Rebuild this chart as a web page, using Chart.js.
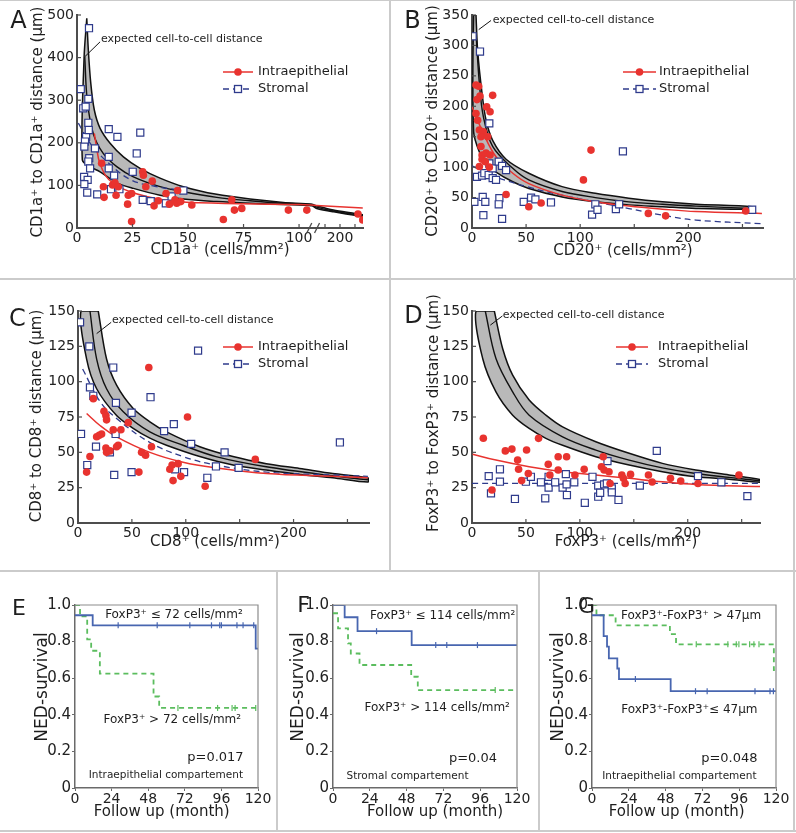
<!DOCTYPE html>
<html>
<head>
<meta charset="utf-8">
<script src="https://cdn.jsdelivr.net/npm/chart.js@4.4.1/dist/chart.umd.min.js"></script>
<style>
  body { margin: 0; background: #fff; }
  #fig { position: relative; width: 796px; height: 833px; }
  #fig canvas { position: absolute; }
  .sep { position: absolute; background: #cbcbcb; }
</style>
</head>
<body>
<div id="fig">
  <canvas id="cA" width="390" height="278" style="left:0;top:0"></canvas>
  <canvas id="cB" width="406" height="278" style="left:390px;top:0"></canvas>
  <canvas id="cC" width="390" height="291" style="left:0;top:280px"></canvas>
  <canvas id="cD" width="406" height="291" style="left:390px;top:280px"></canvas>
  <canvas id="cE" width="277" height="262" style="left:0;top:571px"></canvas>
  <canvas id="cF" width="262" height="262" style="left:277px;top:571px"></canvas>
  <canvas id="cG" width="257" height="262" style="left:539px;top:571px"></canvas>
  <div class="sep" style="left:0;top:0;width:796px;height:1px"></div>
  <div class="sep" style="left:793px;top:0;width:2px;height:831px"></div>
  <div class="sep" style="left:0;top:830px;width:796px;height:2px"></div>
  <div class="sep" style="left:0;top:278px;width:796px;height:2px"></div>
  <div class="sep" style="left:389px;top:0;width:2px;height:571px"></div>
  <div class="sep" style="left:0;top:570px;width:796px;height:2px"></div>
  <div class="sep" style="left:276px;top:571px;width:2px;height:260px"></div>
  <div class="sep" style="left:538px;top:571px;width:2px;height:260px"></div>
</div>
<script>
const FONT = '"DejaVu Sans", Verdana, sans-serif';
const RED = "#e8332f";
const NAVY = "#2f3b8c";
const BAND = "#b9b9b9";
const KMBLUE = "#4866b0";
const KMGREEN = "#5bbd5e";

// ---------- A : CD1a+ (axe x coupé après 100) ----------
const aTickReal = [0, 25, 50, 75, 100, 150, 200, 250];
const aTickText = ["0", "25", "50", "75", "100", "", "200", ""];
const aRedX = [11.1, 11.9, 12.2, 16, 17.1, 17.6, 18.6, 23.1, 22.8, 24.6, 24.6, 29.6, 29.9, 31, 33.9, 34.7, 36.6, 40.1, 41.6, 44.1, 44.9, 45.3, 46.7, 51.7, 65.9, 69.7, 70.9, 74.2, 95.2, 103.5, 260, 276];
const aRedY = [152, 97, 72, 101, 106, 77, 97, 77, 56, 81, 15, 132, 124, 97, 110, 52, 64, 81, 56, 66, 58, 88, 62, 54, 20, 66, 42, 46, 42, 42, 33, 19];
const aBlueX = [5.4, 1.7, 2.8, 3.9, 5.1, 5.1, 4.1, 3.6, 3.3, 5.3, 5.5, 5.1, 5.9, 3.2, 4.8, 3.3, 4.6, 9.1, 8.1, 14.3, 18.2, 28.5, 26.9, 14.3, 14.3, 16.7, 25.1, 15.3, 19.1, 29.6, 33.2, 40, 42.6, 47.9];
const aBlueY = [469, 326, 281, 285, 303, 247, 214, 203, 191, 230, 164, 156, 140, 120, 113, 103, 83, 79, 187, 232, 214, 224, 175, 167, 140, 123, 132, 91, 91, 66, 63, 58, 74, 88];
const aUpX = [4.4, 5.1, 6.2, 7.8, 10.4, 14.9, 20.9, 28.4, 37.4, 47.9, 62.9, 77.9, 92.9, 105.7, 122, 178, 276];
const aUpY = [492, 418, 340, 277, 234, 199, 167, 140, 117, 97, 79, 68, 60, 56, 52, 42, 31];
const aLoX = [3.2, 2.4, 5.9, 10.4, 17.9, 25.4, 37.4, 47.9, 62.9, 77.9, 92.9, 105.7, 122, 178, 276];
const aLoY = [402, 160, 144, 132, 106, 93, 77, 68, 62, 58, 55, 52, 46, 38, 27];
const aMidX = [3.5, 4.6, 7.3, 11.8, 17.9, 25.4, 37.4, 47.9, 62.9, 77.9, 92.9, 105.7, 122, 178, 276];
const aMidY = [402, 300, 222, 175, 144, 120, 97, 85, 72, 64, 58, 55, 49, 40, 29];
const aRedFitX = [7.8, 8.8, 10.3, 14.3, 24, 40, 55, 100, 122, 276];
const aRedFitY = [222, 190, 152, 114, 85, 65, 59, 55, 53, 47];
const aBlueFitX = [0.6, 5.9, 14.3, 24.3, 35, 49];
const aBlueFitY = [246, 199, 152, 113, 98, 87];
const aLeadX = [10.4, 3.5];
const aLeadY = [437, 402];

// ---------- B : CD20+ ----------
const bRedX = [3.7, 6.2, 4.6, 7.4, 19.1, 3.7, 5.2, 6.8, 10.5, 8.3, 13.6, 16.7, 14.5, 8.3, 9.3, 13, 16.7, 9.3, 12.3, 16, 6.8, 31.5, 52.5, 63.9, 103, 110, 163, 179, 253];
const bRedY = [235, 233, 211, 217, 218, 188, 177, 161, 158, 150, 199, 191, 150, 134, 120, 123, 120, 113, 109, 100, 101, 55, 35, 41, 79, 128, 24, 20, 28];
const bBlueX = [0.6, 7.4, 16, 16, 4.6, 9.3, 11.4, 15.4, 19.1, 19.1, 22.2, 24.7, 27.8, 31.5, 2.2, 9.9, 12.3, 10.5, 25.3, 24.7, 27.8, 47.8, 54.6, 58.6, 73, 111, 114, 116, 133, 136, 139.5, 259];
const bBlueY = [315, 290, 172, 106, 84, 86, 90, 87, 98, 82, 79, 109, 102, 95, 43, 51, 43, 21, 49, 39, 15, 43, 50, 47, 42, 22, 39, 30, 31, 39, 126, 30];
const bUpX = [3.7, 5.2, 9.3, 13, 19.1, 31.5, 52.5, 83.3, 114, 145, 176, 207, 259];
const bUpY = [350, 292, 221, 177, 144, 113, 90, 68, 57, 49, 43, 39, 35];
const bLoX = [1.5, 1.5, 6.8, 13, 22.2, 37.7, 52.5, 83.3, 114, 145, 176, 207, 259];
const bLoY = [350, 158, 125, 106, 92, 76, 65, 51, 43, 38, 35, 32, 31];
const bMidX = [3.7, 6.8, 10.5, 19.1, 37.7, 52.5, 83.3, 114, 145, 176, 207, 259];
const bMidY = [320, 238, 183, 134, 98, 79, 60, 50, 43, 39, 36, 32];
const bRedFitX = [0, 9.9, 22.2, 37.7, 52.5, 83.3, 114, 145, 176, 207, 268];
const bRedFitY = [199, 158, 117, 90, 73, 54, 43, 36, 31, 27, 24];
const bBlueFitX = [0, 22, 52.5, 83, 114, 145, 176, 207, 268];
const bBlueFitY = [102, 84, 67, 54, 43, 32, 21, 13, 7];
const bLeadX = [17.6, 6.2];
const bLeadY = [341, 326];

// ---------- C : CD8+ ----------
const cRedX = [8, 11.1, 14.2, 17.3, 19.7, 21.9, 24.1, 25.9, 26.5, 25.9, 26.5, 29.6, 32.7, 35.8, 37.3, 39.8, 46.6, 59, 56.5, 62.7, 65.7, 68.2, 85.2, 87.3, 88.2, 92.9, 95.4, 101.6, 118, 164.5];
const cRedY = [36, 47, 88, 61, 62, 63, 79, 76, 73, 53, 50, 51, 66, 54, 55, 66, 71, 50, 36, 48, 110, 54, 38, 41, 30, 42, 33, 75, 26, 45];
const cBlueX = [1.9, 10.5, 11.1, 14.2, 2.8, 8.6, 16.7, 32.7, 35.2, 34.9, 29.6, 33.6, 49.7, 49.7, 67.3, 79.9, 88.9, 90.1, 98.4, 105, 111.4, 120, 128, 136, 149, 243];
const cBlueY = [142, 125, 96, 90, 63, 41, 54, 110, 85, 63, 50, 34, 78, 36, 89, 65, 70, 38, 36, 56, 122, 32, 40, 50, 39, 57];
const cUpX = [18.8, 26.5, 35.8, 51.2, 66.7, 82.1, 113, 143.8, 174.7, 205.6, 236.4, 268.8];
const cUpY = [150, 116, 97.5, 81, 71.6, 64.5, 54, 47, 42, 38.6, 35, 32];
const cLoX = [2.8, 8, 17.3, 35.8, 51.2, 66.7, 82.1, 113, 143.8, 174.7, 205.6, 236.4, 268.8];
const cLoY = [150, 116, 95, 76, 67, 60, 55, 47, 41, 37.5, 34.4, 32, 29];
const cMidX = [11.1, 17.3, 26.5, 42, 66.7, 97.5, 128, 174.7, 236, 269];
const cMidY = [150, 116, 95, 78.7, 64.5, 55, 47, 39.8, 33.4, 30.6];
const cRedFitX = [8, 20.4, 35.8, 66.7, 97.5, 128, 175, 236, 269];
const cRedFitY = [77.5, 69, 61, 50, 43, 39, 35, 33, 32];
const cBlueFitX = [4.3, 20.4, 35.8, 66.7, 97.5, 128, 175, 236, 269];
const cBlueFitY = [109, 86, 74, 57, 47, 41, 36, 34, 33];
const cLeadX = [30.8, 17.3];
const cLeadY = [142, 134];

// ---------- D : FoxP3+ ----------
const dRedX = [10.5, 18.5, 30.9, 37, 42.3, 43.2, 46, 50.6, 52.2, 61.7, 70.7, 72.2, 79.9, 79.9, 87.7, 95.4, 104, 120, 121.6, 122.5, 127, 128, 138.9, 140.4, 142, 147, 163.6, 167, 184, 193.5, 209.5, 247.5];
const dRedY = [60, 23.3, 51, 52.3, 44.5, 38, 30, 51.6, 35, 59.9, 41.5, 34, 46.9, 37.5, 46.9, 34, 38, 39.8, 46.9, 37.5, 36.3, 28, 34, 31.6, 28, 34.4, 34, 29, 31.6, 29.7, 28, 34];
const dBlueX = [15.5, 17.6, 25.9, 25.9, 39.8, 50, 54.6, 63.9, 67.9, 71, 71, 77.1, 84, 87, 87.7, 88, 94.8, 104.6, 111.7, 117, 117, 118.8, 122.5, 125, 125.6, 129.6, 129.6, 135.8, 155.6, 171.3, 209.5, 231.2, 255.3];
const dBlueY = [33.2, 21, 38, 29.2, 17, 29.2, 32.7, 28.8, 17.5, 32.7, 25, 28.8, 25, 34.6, 27.3, 19.8, 28.8, 14.3, 32.7, 26.4, 18.6, 21.4, 27.3, 28, 43.8, 24.5, 21.7, 16.3, 26.4, 51, 33.2, 28.8, 19];
const dUpX = [20.7, 28.4, 37.7, 53, 68.5, 84, 114.8, 145.7, 176.5, 207.4, 238.3, 269];
const dUpY = [150, 123.5, 104.6, 87, 76.3, 68, 57.5, 49.3, 42.2, 37.5, 34, 30.4];
const dLoX = [3.7, 9.9, 22.2, 37.7, 53, 68.5, 84, 114.8, 145.7, 176.5, 207.4, 238.3, 269];
const dLoY = [150, 116.4, 92.8, 76.3, 66.9, 59.9, 55, 46.9, 41, 36.3, 32.7, 31, 28.8];
const dMidX = [12.3, 22.2, 37.7, 53, 84, 114.8, 145.7, 176.5, 207.4, 238.3, 269];
const dMidY = [150, 116.4, 92.8, 76.3, 61, 51.6, 44.5, 39, 35, 32.3, 29.7];
const dRedFitX = [0.6, 22.2, 53, 84, 114.8, 145.7, 176.5, 207.4, 269];
const dRedFitY = [48.7, 44.5, 39.8, 36.3, 34, 31.6, 29.2, 27.3, 25.7];
const dBlueFitX = [0, 269];
const dBlueFitY = [28, 28];
const dLeadX = [28.2, 17];
const dLeadY = [146.5, 140];

// ---------- E, F, G : survie (Kaplan-Meier) ----------
const eBlueT = [0, 11.6, 118.5, 120];
const eBlueS = [0.944, 0.889, 0.762, 0.762];
const eBlueCens = [28.3, 53.9, 75.3, 89.5, 94.9, 96, 106.2, 110.2, 117.2];
const eGreenT = [0, 3.3, 8, 10.6, 16.3, 51.5, 55.2, 120];
const eGreenS = [1, 0.9375, 0.8125, 0.75, 0.625, 0.5, 0.4375, 0.4375];
const eGreenCens = [67.5, 93.5, 103, 105, 118.5];

const fBlueT = [0, 7.6, 16, 51.3, 120];
const fBlueS = [1, 0.933, 0.857, 0.781, 0.781];
const fBlueCens = [28.4, 67, 74.2, 94.2];
const fGreenT = [0, 3.3, 9.8, 11.6, 17.3, 51, 55.3, 120];
const fGreenS = [0.955, 0.872, 0.79, 0.735, 0.672, 0.608, 0.535, 0.535];
const fGreenCens = [105.8];

const gBlueT = [0, 7.6, 9.8, 11, 16.5, 17.6, 51.3, 120];
const gBlueS = [0.944, 0.83, 0.772, 0.708, 0.653, 0.595, 0.529, 0.529];
const gBlueCens = [28.3, 67.5, 75.1, 106.3, 116.1, 118.3];
const gGreenT = [0, 2.9, 15.4, 50.8, 54.8, 118.6, 120];
const gGreenS = [1, 0.944, 0.889, 0.841, 0.785, 0.644, 0.644];
const gGreenCens = [68, 88.6, 94.1, 95.8, 102.8, 105.6, 108.9];

// ---------- helpers ----------
const same = v => v;
const brkA = r => (r <= 110 ? r : 91.44 + 0.135 * r); // axe coupé de A
const pts = (xs, ys, f = same) => xs.map((x, i) => ({ x: f(x), y: ys[i] }));
const poly = (ux, uy, lx, ly, f) => {
  const up = pts(ux, uy, f);
  return up.concat(pts(lx, ly, f).reverse(), [up[0]]);
};
const stepAt = (ts, ss, t) => {
  let s = ss[0];
  ts.forEach((v, i) => { if (v <= t) s = ss[i]; });
  return s;
};

function deco(o) {
  return {
    id: "deco",
    afterDraw(chart) {
      const c = chart.ctx, a = chart.chartArea, xs = chart.scales.x, ys = chart.scales.y;
      const seg = (x1, y1, x2, y2) => { c.beginPath(); c.moveTo(x1, y1); c.lineTo(x2, y2); c.stroke(); };
      c.save();
      if (o.frame) {
        c.strokeStyle = "#8c8c8c"; c.lineWidth = 1.2;
        c.beginPath(); c.moveTo(a.left, a.top); c.lineTo(a.right, a.top); c.lineTo(a.right, a.bottom); c.stroke();
      }
      if (o.inTicks) {
        c.strokeStyle = "#4d4d4d"; c.lineWidth = 1.2;
        xs.ticks.forEach(t => { const p = xs.getPixelForValue(t.value); seg(p, a.bottom, p, a.bottom - 4); });
        ys.ticks.forEach(t => { const p = ys.getPixelForValue(t.value); seg(a.left, p, a.left + 4, p); });
      }
      if (o.brk) {
        c.strokeStyle = "#4d4d4d"; c.lineWidth = 1.3;
        o.brk.forEach(v => { const p = xs.getPixelForValue(v); seg(p - 2.5, a.bottom + 5, p + 2.5, a.bottom - 5); });
      }
      c.fillStyle = "#1e1e1e"; c.textBaseline = "middle";
      (o.notes || []).forEach(n => {
        c.font = n.size + "px " + FONT; c.textAlign = n.align || "center";
        c.fillText(n.text, xs.getPixelForValue(n.x), ys.getPixelForValue(n.y));
      });
      (o.titles || []).forEach(t => {
        c.save(); c.translate(t.x, t.y); if (t.rot) c.rotate(-Math.PI / 2);
        c.font = t.size + "px " + FONT; c.textAlign = "center";
        c.fillText(t.text, 0, 0); c.restore();
      });
      if (o.legend) {
        const L = o.legend, m = (L.x1 + L.x2) / 2;
        c.lineWidth = 1.5; c.strokeStyle = RED; seg(L.x1, L.y1, L.x2, L.y1);
        c.fillStyle = RED; c.beginPath(); c.arc(m, L.y1, 3.8, 0, 2 * Math.PI); c.fill();
        c.strokeStyle = NAVY; c.lineWidth = 1.3; c.setLineDash([6, 4]); seg(L.x1, L.y2, L.x2, L.y2); c.setLineDash([]);
        c.fillStyle = "#fff"; c.fillRect(m - 3.5, L.y2 - 3.5, 7, 7); c.strokeRect(m - 3.5, L.y2 - 3.5, 7, 7);
        c.fillStyle = "#1e1e1e"; c.font = "13px " + FONT; c.textAlign = "left";
        c.fillText("Intraepithelial", L.tx, L.y1); c.fillText("Stromal", L.tx, L.y2);
      }
      c.restore();
    }
  };
}

const tickFont = size => ({ family: FONT, size: size });

function distChart(id, k) {
  const f = k.f || same;
  return new Chart(document.getElementById(id), {
    type: "line",
    data: {
      datasets: [
        { data: pts(k.redX, k.redY, f), showLine: false, pointStyle: "circle", pointRadius: 3.8, pointBackgroundColor: RED, pointBorderWidth: 0, order: 1 },
        { data: pts(k.blueX, k.blueY, f), showLine: false, pointStyle: "rect", pointRadius: 5, pointBackgroundColor: "#fff", pointBorderColor: NAVY, pointBorderWidth: 1.2, order: 2 },
        { data: pts(k.leadX, k.leadY, f), borderColor: "#111", borderWidth: 1, pointRadius: 0, order: 3 },
        { data: pts(k.rfX, k.rfY, f), borderColor: RED, borderWidth: 1.5, pointRadius: 0, tension: 0.4, order: 4 },
        { data: pts(k.bfX, k.bfY, f), borderColor: NAVY, borderWidth: 1.3, borderDash: [6, 4], pointRadius: 0, tension: 0.4, order: 5 },
        { data: pts(k.midX, k.midY, f), borderColor: "#111", borderWidth: 1.4, pointRadius: 0, tension: 0.35, order: 6 },
        { data: poly(k.upX, k.upY, k.loX, k.loY, f), fill: "shape", backgroundColor: BAND, borderColor: "#111", borderWidth: 1.5, pointRadius: 0, tension: 0.3, order: 7 }
      ]
    },
    options: {
      responsive: false, animation: false, events: [],
      layout: { padding: k.pad },
      scales: {
        x: {
          type: "linear", min: 0, max: k.xmax,
          border: { color: "#4d4d4d", width: 2 },
          grid: { drawOnChartArea: false, drawTicks: false },
          ticks: Object.assign({ font: tickFont(14), color: "#222", padding: 2, maxRotation: 0, autoSkip: false, includeBounds: false, stepSize: 50 }, k.xticks || {}),
          afterBuildTicks: k.xbuild,
          afterFit: s => { s.height = k.xh; }
        },
        y: {
          min: 0, max: k.ymax,
          border: { color: "#4d4d4d", width: 2 },
          grid: { drawOnChartArea: false, drawTicks: false },
          ticks: { font: tickFont(14), color: "#222", padding: 3, stepSize: k.ystep },
          afterFit: s => { s.width = k.yw; }
        }
      },
      plugins: { legend: { display: false }, tooltip: { enabled: false } }
    },
    plugins: [deco(k.deco)]
  });
}

const xLab = v => ([0, 50, 100, 200].includes(v) ? v : "");
const EXP = "expected cell-to-cell distance";

distChart("cA", {
  f: brkA, redX: aRedX, redY: aRedY, blueX: aBlueX, blueY: aBlueY, leadX: aLeadX, leadY: aLeadY,
  rfX: aRedFitX, rfY: aRedFitY, bfX: aBlueFitX, bfY: aBlueFitY, midX: aMidX, midY: aMidY,
  upX: aUpX, upY: aUpY, loX: aLoX, loY: aLoY,
  pad: { left: 0, top: 15, right: 27, bottom: 0 }, yw: 77, xh: 50, xmax: 128.8, ymax: 500, ystep: 100,
  xbuild: s => { s.ticks = aTickReal.map(v => ({ value: brkA(v) })); },
  xticks: { callback: (v, i) => aTickText[i] },
  deco: {
    inTicks: true, brk: [104.6, 108.1],
    notes: [{ text: EXP, x: 10.8, y: 444, size: 11, align: "left" }],
    titles: [
      { text: "A", x: 18.5, y: 22, size: 24 },
      { text: "CD1a\u207A (cells/mm\u00B2)", x: 220, y: 250, size: 15 },
      { text: "CD1a\u207A to CD1a\u207A distance (\u00B5m)", x: 38, y: 122, size: 15, rot: true }
    ],
    legend: { x1: 223, x2: 253, tx: 258, y1: 72, y2: 89 }
  }
});

distChart("cB", {
  redX: bRedX, redY: bRedY, blueX: bBlueX, blueY: bBlueY, leadX: bLeadX, leadY: bLeadY,
  rfX: bRedFitX, rfY: bRedFitY, bfX: bBlueFitX, bfY: bBlueFitY, midX: bMidX, midY: bMidY,
  upX: bUpX, upY: bUpY, loX: bLoX, loY: bLoY,
  pad: { left: 0, top: 15, right: 33, bottom: 0 }, yw: 82, xh: 50, xmax: 269, ymax: 350, ystep: 50,
  xticks: { callback: xLab },
  deco: {
    inTicks: true,
    notes: [{ text: EXP, x: 19.2, y: 341, size: 11, align: "left" }],
    titles: [
      { text: "B", x: 22.5, y: 22, size: 24 },
      { text: "CD20\u207A (cells/mm\u00B2)", x: 233, y: 251, size: 15 },
      { text: "CD20\u207A to CD20\u207A distance (\u00B5m)", x: 42.7, y: 121, size: 15, rot: true }
    ],
    legend: { x1: 233, x2: 266, tx: 269, y1: 72, y2: 89 }
  }
});

distChart("cC", {
  redX: cRedX, redY: cRedY, blueX: cBlueX, blueY: cBlueY, leadX: cLeadX, leadY: cLeadY,
  rfX: cRedFitX, rfY: cRedFitY, bfX: cBlueFitX, bfY: cBlueFitY, midX: cMidX, midY: cMidY,
  upX: cUpX, upY: cUpY, loX: cLoX, loY: cLoY,
  pad: { left: 0, top: 31, right: 21, bottom: 0 }, yw: 78, xh: 48, xmax: 270, ymax: 150, ystep: 25,
  xticks: { callback: xLab },
  deco: {
    inTicks: true,
    notes: [{ text: EXP, x: 31.5, y: 143.5, size: 11, align: "left" }],
    titles: [
      { text: "C", x: 17.5, y: 40, size: 24 },
      { text: "CD8\u207A (cells/mm\u00B2)", x: 215, y: 262, size: 15 },
      { text: "CD8\u207A to CD8\u207A distance (\u00B5m)", x: 37.3, y: 136, size: 15, rot: true }
    ],
    legend: { x1: 223, x2: 253, tx: 258, y1: 67, y2: 84 }
  }
});

distChart("cD", {
  redX: dRedX, redY: dRedY, blueX: dBlueX, blueY: dBlueY, leadX: dLeadX, leadY: dLeadY,
  rfX: dRedFitX, rfY: dRedFitY, bfX: dBlueFitX, bfY: dBlueFitY, midX: dMidX, midY: dMidY,
  upX: dUpX, upY: dUpY, loX: dLoX, loY: dLoY,
  pad: { left: 0, top: 31, right: 36, bottom: 0 }, yw: 82, xh: 48, xmax: 267, ymax: 150, ystep: 25,
  xticks: { callback: xLab },
  deco: {
    inTicks: true,
    notes: [{ text: EXP, x: 28.6, y: 147, size: 11, align: "left" }],
    titles: [
      { text: "D", x: 23.5, y: 37, size: 24 },
      { text: "FoxP3\u207A (cells/mm\u00B2)", x: 236, y: 262, size: 15 },
      { text: "FoxP3\u207A to FoxP3\u207A distance (\u00B5m)", x: 44.3, y: 133, size: 15, rot: true }
    ],
    legend: { x1: 226, x2: 258, tx: 268, y1: 67, y2: 84 }
  }
});

function kmChart(id, k) {
  const cens = (ts, ss, cs) => cs.map(t => ({ x: t, y: stepAt(ts, ss, t) }));
  return new Chart(document.getElementById(id), {
    type: "line",
    data: {
      datasets: [
        { data: cens(k.bT, k.bS, k.bC), showLine: false, pointStyle: "line", pointRotation: 90, pointRadius: 3, pointBorderColor: KMBLUE, pointBorderWidth: 1.2, order: 1 },
        { data: cens(k.gT, k.gS, k.gC), showLine: false, pointStyle: "line", pointRotation: 90, pointRadius: 3, pointBorderColor: KMGREEN, pointBorderWidth: 1.2, order: 2 },
        { data: pts(k.bT, k.bS), stepped: true, borderColor: KMBLUE, borderWidth: 1.8, pointRadius: 0, order: 3 },
        { data: pts(k.gT, k.gS), stepped: true, borderColor: KMGREEN, borderWidth: 1.8, borderDash: [5, 4], pointRadius: 0, order: 4 }
      ]
    },
    options: {
      responsive: false, animation: false, events: [],
      layout: { padding: k.pad },
      scales: {
        x: {
          type: "linear", min: 0, max: 120,
          border: { color: "#6a6a6a", width: 1.5 },
          grid: { drawOnChartArea: false, drawTicks: true, tickLength: 3, color: "#6a6a6a" },
          ticks: { font: tickFont(14), color: "#222", padding: 0, stepSize: 24, maxRotation: 0, autoSkip: false },
          afterFit: s => { s.height = 45; }
        },
        y: {
          min: 0, max: 1,
          border: { color: "#6a6a6a", width: 1.5 },
          grid: { drawOnChartArea: false, drawTicks: true, tickLength: 3, color: "#6a6a6a" },
          ticks: { font: tickFont(15), color: "#222", padding: 1, stepSize: 0.2, callback: v => (v === 0 ? "0" : v.toFixed(1)) },
          afterFit: s => { s.width = k.yw; }
        }
      },
      plugins: { legend: { display: false }, tooltip: { enabled: false } }
    },
    plugins: [deco(k.deco)]
  });
}

kmChart("cE", {
  bT: eBlueT, bS: eBlueS, bC: eBlueCens, gT: eGreenT, gS: eGreenS, gC: eGreenCens,
  pad: { left: 0, top: 34, right: 19, bottom: 0 }, yw: 75,
  deco: {
    frame: true,
    notes: [
      { text: "FoxP3\u207A \u2264 72 cells/mm\u00B2", x: 64.9, y: 0.945, size: 12 },
      { text: "FoxP3\u207A > 72 cells/mm\u00B2", x: 63.8, y: 0.373, size: 12 },
      { text: "p=0.017", x: 92.1, y: 0.167, size: 13 },
      { text: "Intraepithelial compartement", x: 59.6, y: 0.069, size: 10.5 }
    ],
    titles: [
      { text: "E", x: 19, y: 38, size: 22 },
      { text: "Follow up (month)", x: 161.7, y: 241, size: 15 },
      { text: "NED-survival", x: 42.7, y: 116, size: 17, rot: true }
    ]
  }
});

kmChart("cF", {
  bT: fBlueT, bS: fBlueS, bC: fBlueCens, gT: fGreenT, gS: fGreenS, gC: fGreenCens,
  pad: { left: 0, top: 34, right: 22, bottom: 0 }, yw: 56,
  deco: {
    frame: true,
    notes: [
      { text: "FoxP3\u207A \u2264 114 cells/mm\u00B2", x: 71.5, y: 0.94, size: 12 },
      { text: "FoxP3\u207A > 114 cells/mm\u00B2", x: 68, y: 0.438, size: 12 },
      { text: "p=0.04", x: 91.3, y: 0.161, size: 13 },
      { text: "Stromal compartement", x: 48.6, y: 0.064, size: 10.5 }
    ],
    titles: [
      { text: "F", x: 26.5, y: 35, size: 22 },
      { text: "Follow up (month)", x: 158, y: 241, size: 15 },
      { text: "NED-survival", x: 21.3, y: 116, size: 17, rot: true }
    ]
  }
});

kmChart("cG", {
  bT: gBlueT, bS: gBlueS, bC: gBlueCens, gT: gGreenT, gS: gGreenS, gC: gGreenCens,
  pad: { left: 0, top: 34, right: 20, bottom: 0 }, yw: 53,
  deco: {
    frame: true,
    notes: [
      { text: "FoxP3\u207A-FoxP3\u207A > 47\u00B5m", x: 64.6, y: 0.94, size: 12 },
      { text: "FoxP3\u207A-FoxP3\u207A\u2264 47\u00B5m", x: 63.5, y: 0.429, size: 12 },
      { text: "p=0.048", x: 89.6, y: 0.161, size: 13 },
      { text: "Intraepithelial compartement", x: 57, y: 0.064, size: 10.5 }
    ],
    titles: [
      { text: "G", x: 47.5, y: 36, size: 22 },
      { text: "Follow up (month)", x: 137.7, y: 241, size: 15 },
      { text: "NED-survival", x: 19.3, y: 116, size: 17, rot: true }
    ]
  }
});
</script>
</body>
</html>
